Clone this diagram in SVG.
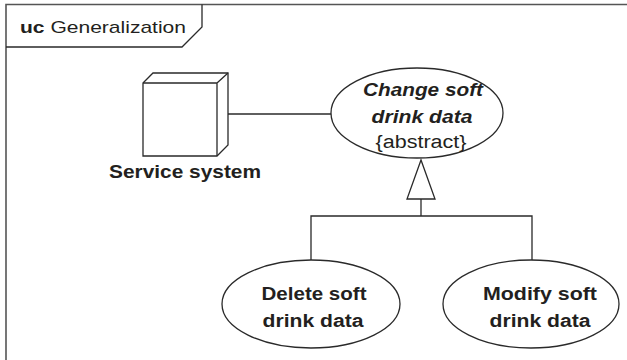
<svg xmlns="http://www.w3.org/2000/svg" width="627" height="360" viewBox="0 0 627 360">
<style>
.ln{fill:none;stroke:#2a2a2a;stroke-width:1.3}
.fr{fill:none;stroke:#555;stroke-width:1.6}
.sh{fill:#fff;stroke:#2a2a2a;stroke-width:1.3}
.t{font-family:"Liberation Sans",Arial,sans-serif;fill:#231f20;font-size:18px;text-anchor:middle}
.b{font-weight:bold}
.i{font-style:italic}
</style>
<rect width="627" height="360" fill="#fff"/>
<g id="frame">
<path class="fr" d="M6,360 V4.5 H627"/>
<path class="ln" d="M6,47 H182 L202,27 V4.5"/>
<text x="20" y="33" style="font-family:'Liberation Sans',Arial,sans-serif;font-size:17px;fill:#231f20" textLength="166" lengthAdjust="spacingAndGlyphs"><tspan font-weight="bold">uc</tspan> Generalization</text>
</g>
<g id="connectors">
<line class="ln" x1="228" y1="114" x2="331" y2="114"/>
<polyline class="ln" points="311,260 311,216 532,216 532,260"/>
<line class="ln" x1="421" y1="199" x2="421" y2="216"/>
<polygon class="sh" points="421,160 407,199 435,199"/>
</g>
<g id="service-system">
<path class="sh" d="M143,83 L153,73 H228 V145 L217,156 H143 Z"/>
<path class="ln" d="M143,83 H217 V156 M217,83 L228,73"/>
<text class="t b" x="185" y="178" textLength="152" lengthAdjust="spacingAndGlyphs">Service system</text>
</g>
<g id="change-soft-drink-data">
<ellipse class="sh" cx="417" cy="113" rx="86" ry="45"/>
<text class="t b i" x="423" y="96" textLength="120" lengthAdjust="spacingAndGlyphs">Change soft</text>
<text class="t b i" x="422" y="123" textLength="101" lengthAdjust="spacingAndGlyphs">drink data</text>
<text class="t" x="421" y="148" textLength="91" lengthAdjust="spacingAndGlyphs">{abstract}</text>
</g>
<g id="delete-soft-drink-data">
<ellipse class="sh" cx="311" cy="304" rx="89" ry="44"/>
<text class="t b" x="314" y="300" textLength="105" lengthAdjust="spacingAndGlyphs">Delete soft</text>
<text class="t b" x="313" y="327" textLength="101" lengthAdjust="spacingAndGlyphs">drink data</text>
</g>
<g id="modify-soft-drink-data">
<ellipse class="sh" cx="531" cy="304" rx="88" ry="44"/>
<text class="t b" x="540" y="300" textLength="114" lengthAdjust="spacingAndGlyphs">Modify soft</text>
<text class="t b" x="540" y="327" textLength="101" lengthAdjust="spacingAndGlyphs">drink data</text>
</g>
</svg>
